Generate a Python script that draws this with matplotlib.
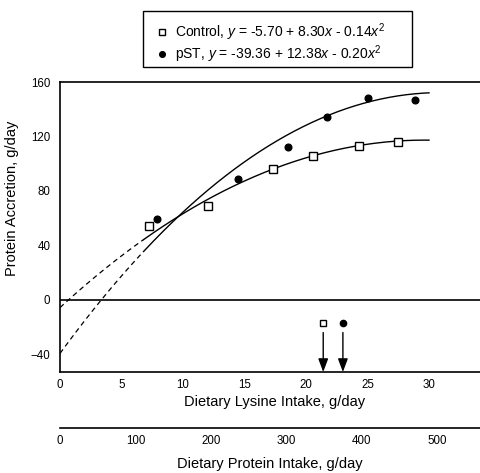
import numpy as np
import matplotlib
matplotlib.use("Agg")
import matplotlib.pyplot as plt
from matplotlib.patches import Rectangle

plt.rcParams['font.family'] = ['Liberation Sans', 'DejaVu Sans']
plt.rcParams['mathtext.fontset'] = 'custom'
plt.rcParams['mathtext.it'] = 'Liberation Sans:italic'
plt.rcParams['mathtext.rm'] = 'Liberation Sans'

# Data
control_x = [7.2, 12.0, 17.3, 20.6, 24.3, 27.5]
control_y = [54, 68.6, 95.9, 106, 112.8, 115.8]
pst_x = [7.9, 14.5, 18.5, 21.7, 25.0, 28.9]
pst_y = [59.3, 88.6, 112, 134, 148, 146.5]
control_coef = [-5.70, 8.30, -0.14]
pst_coef = [-39.36, 12.38, -0.20]
control_req = 21.4
pst_req = 23.0
marker_level = -17
solid_start, solid_end = 6.8, 30.0
yticks = [-40, 0, 40, 80, 120, 160]
xticks = [0, 5, 10, 15, 20, 25, 30]
protein_ticks = [0, 100, 200, 300, 400, 500]
protein_per_lysine = 16.3

fig = plt.figure(figsize=(4.8, 4.73), dpi=100)
ax = fig.add_axes([60/480, 1-372/473, 420/480, 290/473])
xmax = 420/12.3
ax.set_xlim(0, xmax)
ax.set_ylim(-53, 160)

def quad(c, x):
    return c[0] + c[1]*x + c[2]*x**2

xs_d = np.linspace(0, solid_start, 50)
xs_s = np.linspace(solid_start, solid_end, 200)
for c in (control_coef, pst_coef):
    ax.plot(xs_d, quad(c, xs_d), color='black', lw=0.9, ls=(0, (4, 3)))
    ax.plot(xs_s, quad(c, xs_s), color='black', lw=1.0)

ax.plot(control_x, control_y, ls='none', marker='s', ms=5.5, mfc='white',
        mec='black', mew=1.0, label=r'Control, $y$ = -5.70 + 8.30$x$ - 0.14$x^2$')
ax.plot(pst_x, pst_y, ls='none', marker='o', ms=4.8, mfc='black',
        mec='black', label=r'pST, $y$ = -39.36 + 12.38$x$ - 0.20$x^2$')

ax.axhline(0, color='black', lw=1.2)

# requirement arrows
ax.plot([control_req], [marker_level], ls='none', marker='s', ms=4.2, mfc='white', mec='black', mew=1.0)
ax.plot([pst_req], [marker_level], ls='none', marker='o', ms=4.5, mfc='black', mec='black')
for xr in (control_req, pst_req):
    ax.annotate('', xy=(xr, -53), xytext=(xr, -24),
                arrowprops=dict(arrowstyle='-|>,head_length=0.8,head_width=0.3',
                                color='black', lw=1.0, shrinkA=0, shrinkB=0))

ax.spines['right'].set_visible(False)
for s in ('left', 'top', 'bottom'):
    ax.spines[s].set_linewidth(1.2)
ax.set_xticks(xticks)
ax.set_yticks(yticks)
ax.tick_params(length=0, labelsize=8.3)
ax.tick_params(axis='y', pad=7)
ax.tick_params(axis='x', pad=5)
ax.set_xlabel('Dietary Lysine Intake, g/day', fontsize=10.5)
ax.xaxis.set_label_coords(0.51, -0.08)
ax.set_ylabel('Protein Accretion, g/day', fontsize=10.5)
ax.yaxis.set_label_coords(-0.098, 0.6)

leg = ax.legend(loc='upper left', bbox_to_anchor=(149/480, 1-14/473), bbox_transform=fig.transFigure,
                frameon=False, fontsize=10,
                handlelength=0.8, handletextpad=0.6, borderpad=0.0, labelspacing=0.05,
                markerscale=0.85)
fig.patches.append(Rectangle((143/480, 1-67/473), (412-143)/480, 56/473,
                             transform=fig.transFigure, fill=False,
                             edgecolor='black', lw=1.0))

# secondary protein axis
ax2 = fig.add_axes([60/480, 1-428/473, 420/480, 0.0001])
ax2.set_xlim(0, xmax*protein_per_lysine)
ax2.set_ylim(0, 1)
for s in ('left', 'right', 'bottom'):
    ax2.spines[s].set_visible(False)
ax2.spines['top'].set_linewidth(1.2)
ax2.set_yticks([])
ax2.set_xticks(protein_ticks)
ax2.tick_params(length=0, labelsize=8.3, pad=5)
ax2.set_xlabel('Dietary Protein Intake, g/day', fontsize=10.5, labelpad=7)
ax2.patch.set_visible(False)

fig.savefig('out.png', dpi=100)
